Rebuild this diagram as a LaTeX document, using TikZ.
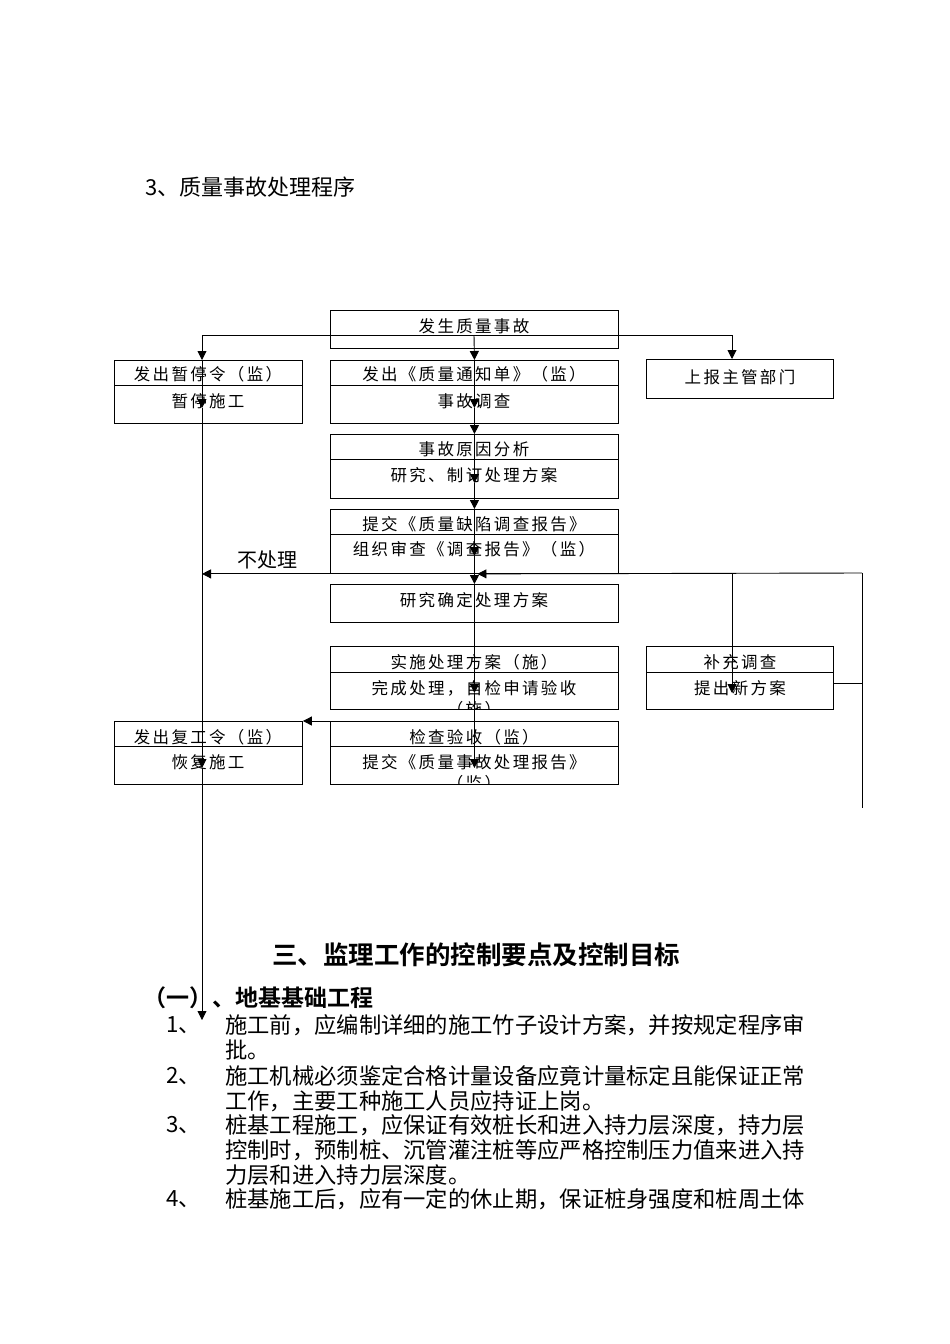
\documentclass[tikz,border=0pt]{standalone}
\usepackage{fontspec}
\usetikzlibrary{arrows.meta, positioning}
\newfontfamily\cjk{Noto Sans CJK SC}
\newfontfamily\boxfont[LetterSpace=14]{Noto Sans CJK SC}
\newfontfamily\headfont{Noto Sans CJK SC Bold}
\tikzset{
    box/.style={draw, line width=0.9pt, anchor=north west, inner sep=0pt, minimum width=288},
    sidebox/.style={box, minimum width=188},
    txt/.style={inner sep=0pt, font=\fontsize{16.5}{19}\boxfont},
    para/.style={inner sep=0pt, anchor=west, font=\fontsize{22.3}{25}\cjk},
    link/.style={line width=0.9pt},
    arr/.style={link, -{Triangle[length=9pt, width=9pt]}},
}

\begin{document}
\begin{tikzpicture}[x=1pt, y=-1pt]
    \useasboundingbox (0,0) rectangle (950,1344);

    \node[anchor=west, inner sep=0pt, font=\fontsize{22}{25}\cjk] (title) at (145,187) {3、质量事故处理程序};

    % boxes
    \node[box, minimum height=38] (accident) at (330,310) {};
    \node[sidebox, minimum height=63] (halt) at (114,360) {};
    \node[box, minimum height=63] (notice) at (330,360) {};
    \node[box, minimum width=187, minimum height=39] (report) at (646,359) {};
    \node[box, minimum height=64] (cause) at (330,434) {};
    \node[box, minimum height=64] (submit) at (330,509) {};
    \node[box, minimum height=38] (decide) at (330,584) {};
    \node[box, minimum height=63] (execute) at (330,646) {};
    \node[box, minimum width=187, minimum height=63] (extra) at (646,646) {};
    \node[box, minimum height=63] (accept) at (330,721) {};
    \node[sidebox, minimum height=63] (resume) at (114,721) {};

    \foreach \n/\y in {halt/385, notice/385, cause/459, submit/534, execute/672, extra/672, accept/746, resume/746}
        \draw[link] (\n.west |- 0,\y) -- (\n.east |- 0,\y);

    % box texts
    \node[txt] (t-acc) at (474,326) {发生质量事故};
    \node[txt] (t-halt1) at (208,374) {发出暂停令（监）};
    \node[txt] (t-halt2) at (208,401) {暂停施工};
    \node[txt] (t-not1) at (474,374) {发出《质量通知单》（监）};
    \node[txt] (t-not2) at (474,401) {事故调查};
    \node[txt] (t-rep) at (740,377) {上报主管部门};
    \node[txt] (t-cau1) at (474,449) {事故原因分析};
    \node[txt] (t-cau2) at (474,475) {研究、制订处理方案};
    \node[txt] (t-sub1) at (474,524) {提交《质量缺陷调查报告》};
    \node[txt] (t-sub2) at (474,549) {组织审查《调查报告》（监）};
    \node[txt] (t-dec) at (474,600) {研究确定处理方案};
    \node[txt] (t-exe1) at (474,662) {实施处理方案（施）};
    \node[txt] (t-exe2) at (474,688) {完成处理，自检申请验收};
    \node[txt] (t-ext1) at (740,662) {补充调查};
    \node[txt] (t-ext2) at (740,688) {提出新方案};
    \node[txt] (t-acc1) at (474,737) {检查验收（监）};
    \node[txt] (t-acc2) at (474,762) {提交《质量事故处理报告》};
    \node[txt] (t-res1) at (208,737) {发出复工令（监）};
    \node[txt] (t-res2) at (208,762) {恢复施工};
    \begin{scope}
        \clip (execute.north west) rectangle (execute.south east);
        \node[txt] (t-exe3) at (474,709) {（施）};
    \end{scope}
    \begin{scope}
        \clip (accept.north west) rectangle (accept.south east);
        \node[txt] (t-acc3) at (474,783) {（监）};
    \end{scope}

    % connectors
    \coordinate (split) at (474,335);
    \coordinate (splitL) at (202,335);
    \coordinate (splitR) at (732,335);
    \draw[link] (splitL) -- (splitR);
    \draw[arr] (split) -- (notice.north);
    \draw[arr] (splitR) -- (splitR |- report.north);

    % main spine
    \draw[arr] (notice.north) -- ++(0,48) coordinate (n1);
    \draw[arr] (n1) -- (cause.north);
    \draw[arr] (cause.north) -- ++(0,49) coordinate (c1);
    \draw[arr] (c1) -- (submit.north);
    \draw[arr] (submit.north) -- ++(0,47) coordinate (s1);
    \draw[arr] (s1) -- (decide.north);
    \draw[arr] (decide.north) -- ([yshift=-47pt]execute.north) coordinate (x1);
    \draw[arr] (x1) -- ([yshift=-47pt]accept.north);

    % left line
    \draw[arr] (splitL) -- (splitL |- halt.north) coordinate (h0);
    \draw[arr] (h0) -- ++(0,48) coordinate (h1);
    \path (splitL |- resume.north) ++(0,47) coordinate (r1);
    \draw[arr] (h1) -- (r1);
    \draw[arr] (r1) -- ++(0,252) coordinate (endL);
    \draw[arr] (submit.south west) -- (submit.south west -| splitL);
    \node[inner sep=0pt, font=\fontsize{20}{24}\cjk] (skip) at (267,560) {不处理};
    \draw[arr] (accept.north west) -- (resume.north east);

    % feedback loop
    \coordinate (loopR) at (862,573);
    \draw[arr, shorten >=3pt] (loopR) -- (submit.south);
    \path (splitR |- extra.north) ++(0,47) coordinate (e1);
    \draw[arr] (splitR |- loopR) -- (e1);
    \path (extra.east) ++(0,5.5) coordinate (e2);
    \draw[link] (e2) -- (e2 -| loopR);
    \draw[link] (loopR) -- ++(0,235);

    % text below
    \node[font=\fontsize{25.5}{29}\headfont, inner sep=0pt] (head) at (476,955) {三、监理工作的控制要点及控制目标};
    \node[anchor=west, font=\fontsize{23}{26}\headfont, inner sep=0pt] (sub) at (143,998) {（一）、地基基础工程};

    \node[para] (num1) at (166,1025) {1、};
    \node[para] (l1a) at (225,1025) {施工前，应编制详细的施工竹子设计方案，并按规定程序审};
    \node[para] (l1b) at (225,1050) {批。};
    \node[para] (num2) at (166,1076) {2、};
    \node[para] (l2a) at (225,1076) {施工机械必须鉴定合格计量设备应竟计量标定且能保证正常};
    \node[para] (l2b) at (225,1101) {工作，主要工种施工人员应持证上岗。};
    \node[para] (num3) at (166,1125) {3、};
    \node[para] (l3a) at (225,1125) {桩基工程施工，应保证有效桩长和进入持力层深度，持力层};
    \node[para] (l3b) at (225,1150) {控制时，预制桩、沉管灌注桩等应严格控制压力值来进入持};
    \node[para] (l3c) at (225,1175) {力层和进入持力层深度。};
    \node[para] (num4) at (166,1199) {4、};
    \node[para] (l4a) at (225,1199) {桩基施工后，应有一定的休止期，保证桩身强度和桩周土体};
\end{tikzpicture}
\end{document}
